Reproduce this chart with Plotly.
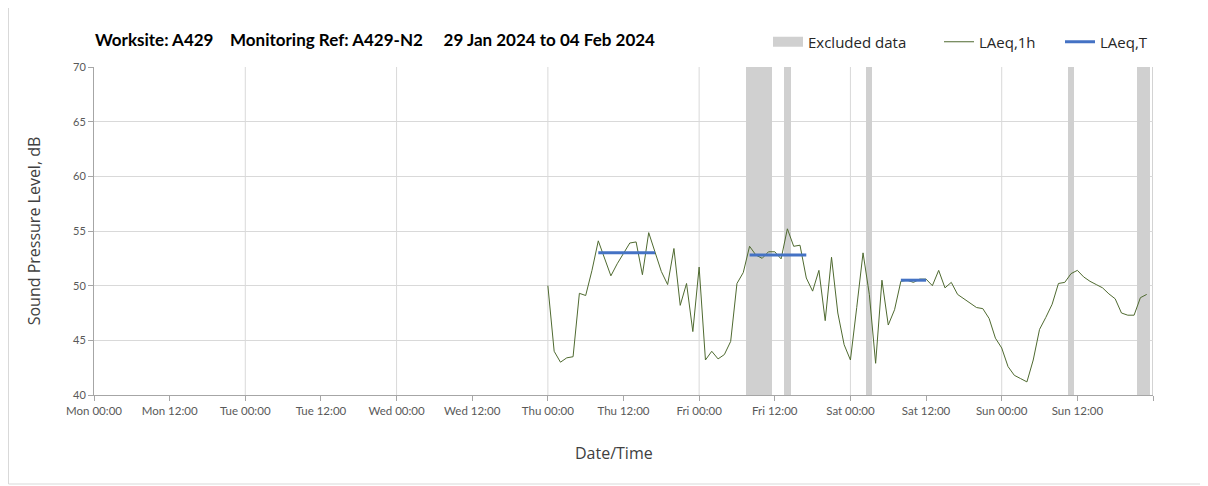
import pandas as pd
import plotly.graph_objects as go

# ---- data ----
series_start = "2024-02-01 00:00"
laeq_1h = [50.0, 44.0, 43.0, 43.4, 43.5, 49.3, 49.1, 51.4, 54.1, 52.5, 50.9, 52.0,
           52.9, 53.9, 54.0, 51.0, 54.85, 53.0, 51.3, 50.1, 53.4, 48.2, 50.2, 45.8,
           51.7, 43.2, 44.0, 43.3, 43.7, 44.9, 50.2, 51.2, 53.6, 52.8, 52.5, 53.1,
           53.1, 52.45, 55.2, 53.6, 53.7, 50.7, 49.5, 51.4, 46.8, 52.6, 47.5, 44.6,
           43.2, 48.0, 53.0, 49.2, 42.9, 50.5, 46.4, 47.8, 50.4, 50.5, 50.3, 50.6,
           50.6, 50.0, 51.4, 49.8, 50.3, 49.2, 48.8, 48.4, 48.0, 47.9, 47.0, 45.2,
           44.3, 42.6, 41.8, 41.5, 41.2, 43.2, 46.0, 47.1, 48.3, 50.2, 50.3, 51.1,
           51.4, 50.8, 50.4, 50.1, 49.8, 49.25, 48.8, 47.5, 47.3, 47.3, 48.9, 49.2]

excluded_times = ["2024-02-02 08:00", "2024-02-02 09:00", "2024-02-02 10:00",
                  "2024-02-02 11:00", "2024-02-02 14:00", "2024-02-03 03:00",
                  "2024-02-04 11:00", "2024-02-04 22:00", "2024-02-04 23:00"]

laeq_t_start = ["2024-02-01 08:00", "2024-02-02 08:00", "2024-02-03 08:00"]
laeq_t_end = ["2024-02-01 17:00", "2024-02-02 17:00", "2024-02-03 12:00"]
laeq_t_value = [53.0, 52.8, 50.5]

week_start = "2024-01-29 00:00"
week_end = "2024-02-05 00:00"
y_min, y_max = 40, 70

# ---- build ----
times = pd.date_range(series_start, periods=len(laeq_1h), freq="h")
tick_vals = pd.date_range(week_start, week_end, freq="12h")
tick_text = [t.strftime("%a %H:%M") for t in tick_vals[:-1]] + [""]
day_lines = pd.date_range(week_start, week_end, freq="D")[1:]

FONT = "Lato"
FONT2 = "Open Sans"
OFF = 8  # page body offset
EXCL_COLOR = "#d0d0d0"
fig = go.Figure()

fig.add_trace(go.Bar(
    x=pd.to_datetime(excluded_times), y=[y_max - y_min] * len(excluded_times),
    base=y_min, width=3600000, marker=dict(color=EXCL_COLOR, line=dict(width=0)),
    name="Excluded data", showlegend=False, hoverinfo="skip"))
# legend entry for the excluded bands (wide rectangular swatch)
fig.add_trace(go.Scatter(
    x=[None], y=[None], mode="lines", name="Excluded data",
    line=dict(color=EXCL_COLOR, width=10), legend="legend"))

fig.add_trace(go.Scatter(
    x=times, y=laeq_1h, mode="lines", name="LAeq,1h",
    line=dict(color="#4f6a30", width=1), legend="legend2"))

tx, ty = [], []
for s, e, v in zip(laeq_t_start, laeq_t_end, laeq_t_value):
    tx += [pd.Timestamp(s), pd.Timestamp(e), None]
    ty += [v, v, None]
fig.add_trace(go.Scatter(
    x=tx, y=ty, mode="lines", name="LAeq,T",
    line=dict(color="#4472c4", width=3), legend="legend3"))

W, H = 1208, 486
L, T = 94 - OFF, 67 - OFF
pw, ph = 1153 - 94, 395 - 67
R = W - L - pw
B = H - T - ph

def px_x(sx):
    return (sx - OFF - L) / pw

def px_y(sy):
    return (ph - (sy - OFF - T)) / ph

shapes = []
for i, d in enumerate(day_lines):
    last = i == len(day_lines) - 1
    shapes.append(dict(type="line", xref="x", yref="paper", x0=d, x1=d, y0=0, y1=1,
                       line=dict(color="#a6a6a6" if last else "#d9d9d9", width=1),
                       layer="below"))
# outer frame
shapes.append(dict(type="rect", xref="paper", yref="paper",
                   x0=px_x(8.5), x1=px_x(1203), y0=px_y(484), y1=px_y(-5),
                   line=dict(color="#d9d9d9", width=1), layer="below"))

legend_common = dict(orientation="h", yanchor="middle", y=px_y(42),
                     xanchor="left", font=dict(family=FONT2, size=15, color="#262626"),
                     bgcolor="rgba(0,0,0,0)", itemwidth=30)

S4 = "\u00a0" * 4
S5 = "\u00a0" * 5
fig.update_layout(
    width=W, height=H,
    margin=dict(l=L, r=R, t=T, b=B, autoexpand=False),
    paper_bgcolor="white", plot_bgcolor="white",
    font=dict(family=FONT, color="#595959"),
    title=dict(text=f"Worksite: A429{S4}Monitoring Ref: A429-N2{S5}29 Jan 2024 to 04 Feb 2024",
               x=(95 - OFF) / W, xanchor="left", xref="container",
               y=1 - (40 - OFF) / H, yanchor="middle", yref="container",
               font=dict(family=FONT, size=17, color="#000000", weight="bold")),
    showlegend=True,
    legend=dict(x=px_x(768), **legend_common),
    legend2=dict(x=px_x(939), **legend_common),
    legend3=dict(x=px_x(1060), **legend_common),
    shapes=shapes,
    annotations=[dict(text="Date/Time", xref="paper", yref="paper",
                      x=px_x(614), y=px_y(453), xanchor="center", yanchor="middle",
                      showarrow=False, font=dict(family=FONT2, size=16, color="#404040"))],
    bargap=0,
    xaxis=dict(range=[pd.Timestamp(week_start), pd.Timestamp(week_end)],
               tickvals=tick_vals, ticktext=tick_text, showgrid=False,
               showline=True, linecolor="#a6a6a6", linewidth=1,
               ticks="outside", ticklen=5, tickcolor="#a6a6a6",
               tickfont=dict(family=FONT, size=11.5, color="#595959"),
               zeroline=False, automargin=False),
    yaxis=dict(range=[y_min, y_max], dtick=5, tick0=40, showgrid=True,
               gridcolor="#d9d9d9", showline=True, linecolor="#a6a6a6",
               ticks="outside", ticklen=5, tickcolor="#a6a6a6",
               tickfont=dict(family=FONT, size=11, color="#595959"),
               title=dict(text="Sound Pressure Level, dB",
                          font=dict(family=FONT2, size=16, color="#404040"), standoff=28),
               zeroline=False, automargin=False),
)

fig.write_html("out.html")
